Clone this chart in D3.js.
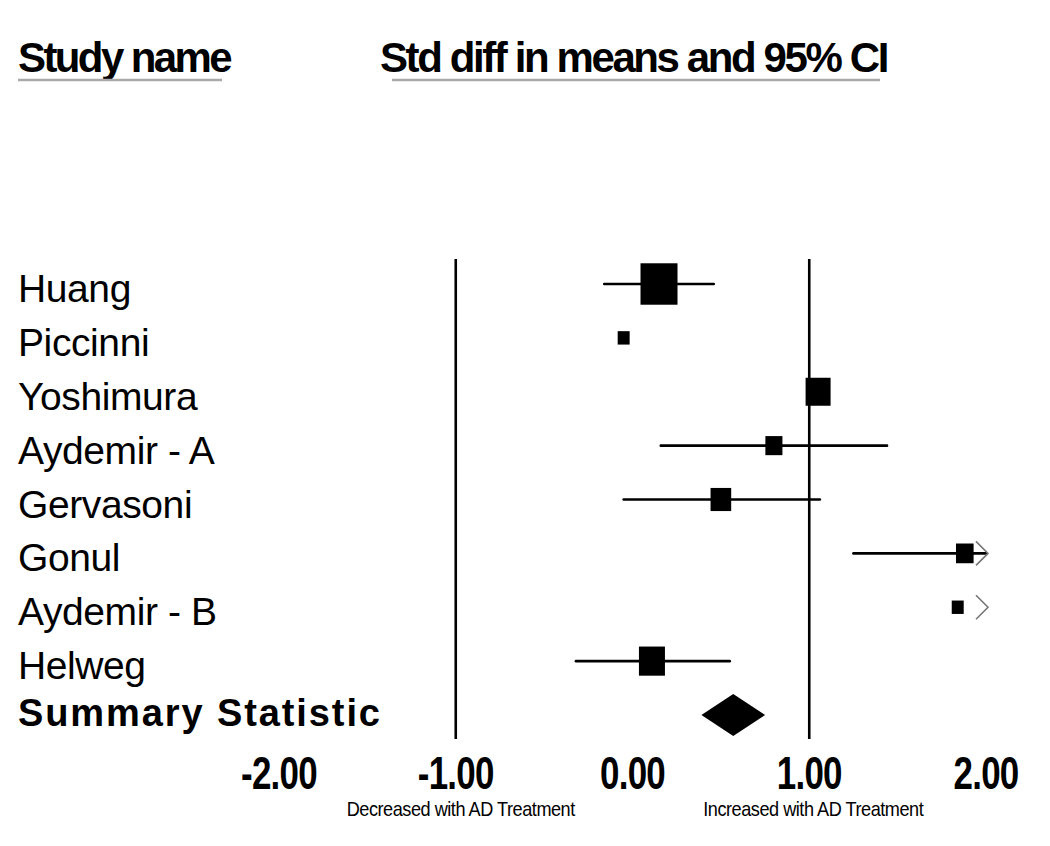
<!DOCTYPE html>
<html>
<head>
<meta charset="utf-8">
<script src="https://cdn.jsdelivr.net/npm/d3@7/dist/d3.min.js"></script>
<style>
  html, body { margin: 0; padding: 0; background: #fff; }
  svg { display: block; }
  text { font-family: "Liberation Sans", Arial, sans-serif; fill: #000; }
</style>
</head>
<body>
<svg id="chart" width="1050" height="846"></svg>
<script>
// ---- data ----
const studies   = ["Huang", "Piccinni", "Yoshimura", "Aydemir - A", "Gervasoni", "Gonul", "Aydemir - B", "Helweg"];
const estimates = [0.15, -0.05, 1.05, 0.80, 0.50, 1.88, 1.84, 0.11];
const lowerCI   = [-0.16, -0.05, 1.05, 0.16, -0.05, 1.25, 1.84, -0.32];
const upperCI   = [0.46, -0.05, 1.05, 1.44, 1.06, 2.50, 1.84, 0.55];
const offScale  = [false, false, false, false, false, true, true, false];
const weights   = [34.4, 3.6, 15.7, 7.3, 10.7, 7.8, 3.6, 17.0];
const summaryLabel = "Summary Statistic";
const summary   = { est: 0.57, lower: 0.39, upper: 0.75 };
const tickValues = [-2, -1, 0, 1, 2];
const tickLabels = ["-2.00", "-1.00", "0.00", "1.00", "2.00"];
const refLines   = [-1, 1];
const headerLeft  = "Study name";
const headerRight = "Std diff in means and 95% CI";
const favLeft  = "Decreased with AD Treatment";
const favRight = "Increased with AD Treatment";

// ---- layout ----
const svg = d3.select("#chart");
const x = d3.scaleLinear().domain([-2, 2]).range([279, 986]);
const rows = studies.concat([summaryLabel]);
const y = d3.scalePoint().domain(rows).range([284, 715]);
const side = d3.scaleSqrt().domain([0, d3.max(weights)]).range([0, 37]);

// headers
svg.append("text").attr("x", 18).attr("y", 72)
  .attr("font-size", 42).attr("font-weight", "bold").attr("letter-spacing", -2.6)
  .text(headerLeft);
svg.append("text").attr("x", 380).attr("y", 72)
  .attr("font-size", 42).attr("font-weight", "bold").attr("letter-spacing", -2.4)
  .text(headerRight);
svg.append("line").attr("x1", 18).attr("x2", 222).attr("y1", 80).attr("y2", 80)
  .attr("stroke", "#aaa").attr("stroke-width", 2.5);
svg.append("line").attr("x1", 392).attr("x2", 880).attr("y1", 80).attr("y2", 80)
  .attr("stroke", "#aaa").attr("stroke-width", 2.5);

// reference lines
svg.selectAll("line.ref").data(refLines).join("line").attr("class", "ref")
  .attr("x1", d => x(d)).attr("x2", d => x(d))
  .attr("y1", 259).attr("y2", 739)
  .attr("stroke", "#000").attr("stroke-width", 2.6);

// study labels
svg.selectAll("text.study").data(studies).join("text").attr("class", "study")
  .attr("x", 18).attr("y", d => y(d) + 18)
  .attr("font-size", 39).attr("letter-spacing", -0.4)
  .text(d => d);
svg.append("text").attr("x", 18).attr("y", y(summaryLabel) + 11)
  .attr("font-size", 38).attr("font-weight", "bold").attr("letter-spacing", 1.9)
  .text(summaryLabel);

const data = studies.map((s, i) => ({
  s, est: estimates[i], lo: lowerCI[i], hi: upperCI[i], off: offScale[i], w: weights[i]
}));

// CI lines
svg.selectAll("line.ci").data(data.filter(d => d.hi > d.lo)).join("line").attr("class", "ci")
  .attr("x1", d => x(Math.max(d.lo, -2))).attr("x2", d => x(Math.min(d.hi, 2)))
  .attr("y1", d => y(d.s)).attr("y2", d => y(d.s))
  .attr("stroke", "#000").attr("stroke-width", 2.6).attr("stroke-linecap", "round");

// boxes
svg.selectAll("rect.box").data(data).join("rect").attr("class", "box")
  .attr("x", d => x(d.est) - side(d.w) / 2)
  .attr("y", d => y(d.s) - side(d.w) * 1.12 / 2)
  .attr("width", d => side(d.w))
  .attr("height", d => side(d.w) * 1.12)
  .attr("fill", "#000");

// off-scale arrows
svg.selectAll("polyline.arrow").data(data.filter(d => d.off)).join("polyline").attr("class", "arrow")
  .attr("points", d => {
    const tx = x(2) + 2, cy = y(d.s);
    return [[tx - 12, cy - 12], [tx, cy], [tx - 12, cy + 12]].map(p => p.join(",")).join(" ");
  })
  .attr("fill", "none").attr("stroke", "#777").attr("stroke-width", 1.6);

// summary diamond
const sy = y(summaryLabel);
svg.append("polygon")
  .attr("points", [[x(summary.lower), sy], [x(summary.est), sy - 21], [x(summary.upper), sy], [x(summary.est), sy + 21]]
    .map(p => p.join(",")).join(" "))
  .attr("fill", "#000");

// axis tick labels
const tg = svg.selectAll("g.tick").data(tickValues).join("g").attr("class", "tick")
  .attr("transform", d => `translate(${x(d)},789) scale(0.76,1)`);
tg.append("text").attr("text-anchor", "middle")
  .attr("font-size", 46).attr("font-weight", "bold").attr("letter-spacing", -1)
  .text((d, i) => tickLabels[i]);

// favours labels
svg.append("g").attr("transform", `translate(${x(-1) + 5},816) scale(0.93,1)`)
  .append("text").attr("text-anchor", "middle")
  .attr("font-size", 19.5).attr("letter-spacing", -0.5).text(favLeft);
svg.append("g").attr("transform", `translate(${x(1) + 4},816) scale(0.93,1)`)
  .append("text").attr("text-anchor", "middle")
  .attr("font-size", 19.5).attr("letter-spacing", -0.5).text(favRight);
</script>
</body>
</html>
